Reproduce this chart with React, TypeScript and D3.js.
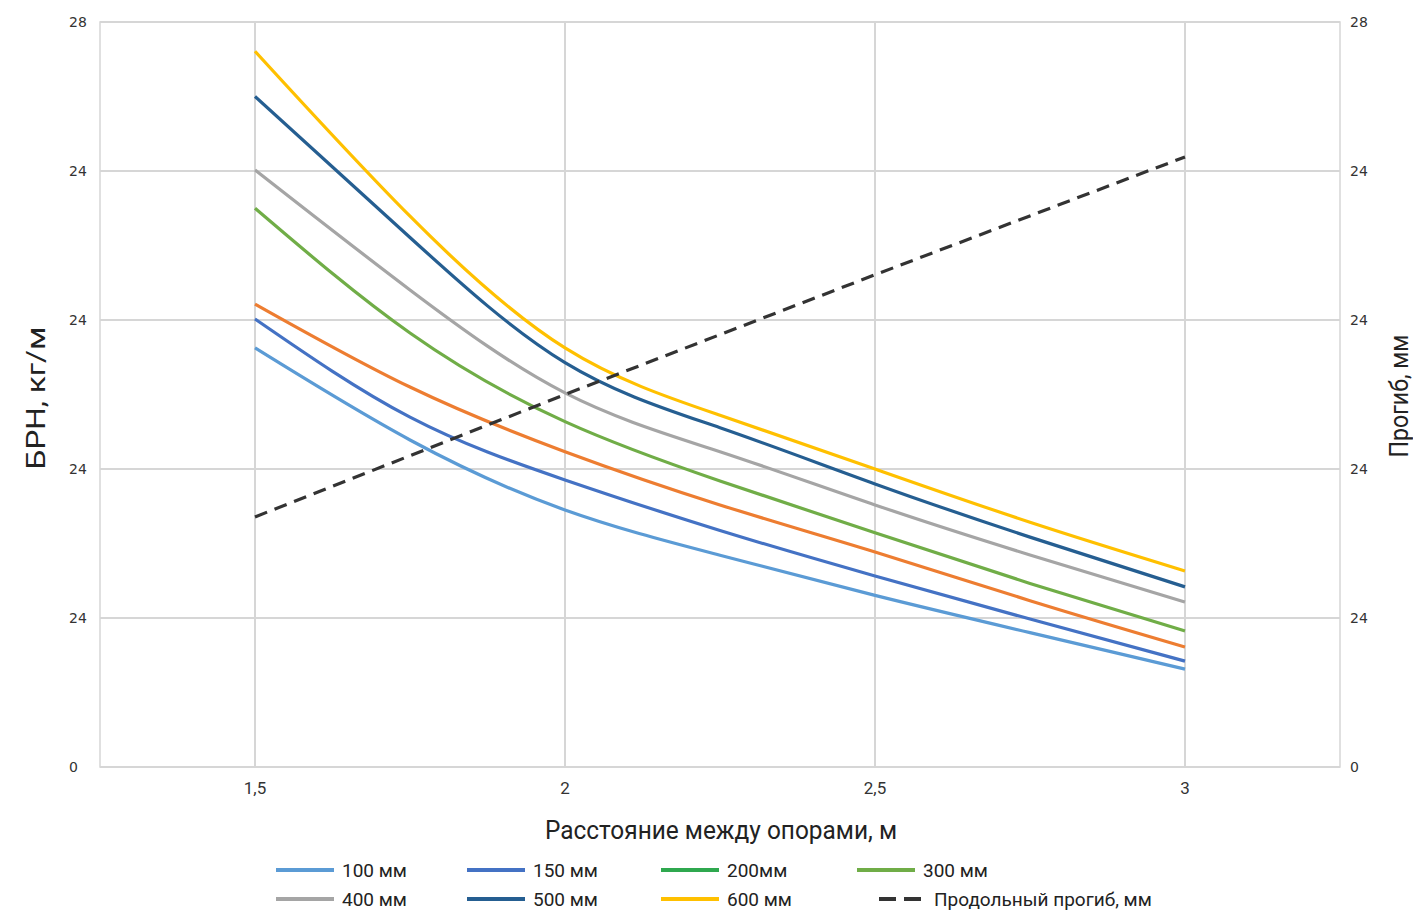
import React from "react";
import * as d3 from "d3";

const xValues = [1.5, 1.75, 2, 2.25, 2.5, 2.75, 3];
const s100 = [15.75, 12.29, 9.66, 7.96, 6.45, 5.05, 3.68];
const s150 = [16.84, 13.15, 10.79, 8.89, 7.18, 5.56, 3.98];
const s200 = [17.4, 14.28, 11.85, 9.85, 8.08, 6.25, 4.51];
const s300 = [21.0, 16.31, 12.98, 10.75, 8.8, 6.9, 5.11];
const s400 = [22.44, 17.93, 14.06, 11.85, 9.85, 7.97, 6.2];
const s500 = [25.2, 19.9, 15.2, 12.75, 10.64, 8.64, 6.77];
const s600 = [26.9, 20.7, 15.75, 13.22, 11.2, 9.2, 7.37];
const deflX = [1.5, 2, 2.5, 3];
const deflection = [9.4, 14.0, 18.5, 22.93];

const xTicks = [1.5, 2, 2.5, 3];
const xTickLabels = ["1,5", "2", "2,5", "3"];
const yTickLabels = ["0", "24", "24", "24", "24", "28"];
const yMax = 28;

const series = [
  { name: "100 мм", values: s100, color: "#5B9BD5", legend: "#5B9BD5" },
  { name: "150 мм", values: s150, color: "#4472C4", legend: "#4472C4" },
  { name: "200мм", values: s200, color: "#ED7D31", legend: "#2FA84F" },
  { name: "300 мм", values: s300, color: "#70AD47", legend: "#70AD47" },
  { name: "400 мм", values: s400, color: "#A5A5A5", legend: "#A5A5A5" },
  { name: "500 мм", values: s500, color: "#255E91", legend: "#255E91" },
  { name: "600 мм", values: s600, color: "#FFC000", legend: "#FFC000" },
];
const deflName = "Продольный прогиб, мм";

export default function App() {
  const W = 1413, H = 911;
  const left = 100, right = 1340, top = 22, bottom = 767;
  const x = d3.scaleLinear().domain([1.25, 3.25]).range([left, right]);
  const y = d3.scaleLinear().domain([0, yMax]).range([bottom, top]);
  const yTicks = yTickLabels.map((_, i) => (yMax * i) / (yTickLabels.length - 1));
  const line = d3
    .line<[number, number]>()
    .x((d) => x(d[0]))
    .y((d) => y(d[1]))
    .curve(d3.curveNatural);
  const straight = d3
    .line<[number, number]>()
    .x((d) => x(d[0]))
    .y((d) => y(d[1]));
  const font = "Roboto, 'Noto Sans', sans-serif";
  const tickFont = "'DejaVu Sans', Verdana, sans-serif";
  const gridColor = "#d6d6d6";

  const legendItems = [
    ...series.map((s) => ({ name: s.name, color: s.legend, dashed: false })),
    { name: deflName, color: "#333333", dashed: true },
  ];
  const colX = [276, 467, 661, 857];
  const rowY = [870, 899];

  return (
    <svg width={W} height={H} style={{ position: "absolute", left: 0, top: 0, background: "#fff" }}>
      <rect x={0} y={0} width={W} height={H} fill="#fff" />
      {yTicks.map((t, i) => (
        <line key={"gy" + i} x1={left} x2={right} y1={y(t)} y2={y(t)} stroke={gridColor} strokeWidth={2} />
      ))}
      {xTicks.map((t, i) => (
        <line key={"gx" + i} x1={x(t)} x2={x(t)} y1={top} y2={bottom} stroke={gridColor} strokeWidth={2} />
      ))}
      <rect x={left} y={top} width={right - left} height={bottom - top} fill="none" stroke={gridColor} strokeWidth={1.5} />
      {yTicks.map((t, i) => (
        <g key={"yl" + i}>
          <text x={69} y={y(t) + 5} fontSize={14} fontFamily={tickFont} fill="#333">{yTickLabels[i]}</text>
          <text x={1350} y={y(t) + 5} fontSize={14} fontFamily={tickFont} fill="#333">{yTickLabels[i]}</text>
        </g>
      ))}
      {xTicks.map((t, i) => (
        <text key={"xl" + i} x={x(t)} y={794} textAnchor="middle" fontSize={17} fontFamily={font} fill="#333">
          {xTickLabels[i]}
        </text>
      ))}
      <text x={721} y={839} textAnchor="middle" fontSize={25} fontFamily={font} fill="#222" textLength={352} lengthAdjust="spacingAndGlyphs">
        Расстояние между опорами, м
      </text>
      <text transform={`translate(45,398) rotate(-90)`} textAnchor="middle" fontSize={26} fontFamily={font} fill="#222" textLength={143} lengthAdjust="spacingAndGlyphs">
        БРН, кг/м
      </text>
      <text transform={`translate(1408,396) rotate(-90)`} textAnchor="middle" fontSize={26} fontFamily={font} fill="#222" textLength={123} lengthAdjust="spacingAndGlyphs">
        Прогиб, мм
      </text>
      {series.map((s) => (
        <path
          key={s.name}
          d={line(xValues.map((xv, i) => [xv, s.values[i]] as [number, number])) || ""}
          fill="none"
          stroke={s.color}
          strokeWidth={3.2}
        />
      ))}
      <path
        d={straight(deflX.map((xv, i) => [xv, deflection[i]] as [number, number])) || ""}
        fill="none"
        stroke="#333333"
        strokeWidth={3.2}
        strokeDasharray="13 8"
      />
      {legendItems.map((it, i) => {
        const cx = colX[i % 4];
        const cy = rowY[Math.floor(i / 4)];
        return (
          <g key={"lg" + i}>
            {it.dashed ? (
              <line x1={cx + 22} x2={cx + 64} y1={cy} y2={cy} stroke={it.color} strokeWidth={4} strokeDasharray="17 8" />
            ) : (
              <line x1={cx} x2={cx + 58} y1={cy} y2={cy} stroke={it.color} strokeWidth={4} />
            )}
            <text x={cx + (it.dashed ? 77 : 66)} y={cy + 7} fontSize={19} fontFamily={font} fill="#222">
              {it.name}
            </text>
          </g>
        );
      })}
    </svg>
  );
}
